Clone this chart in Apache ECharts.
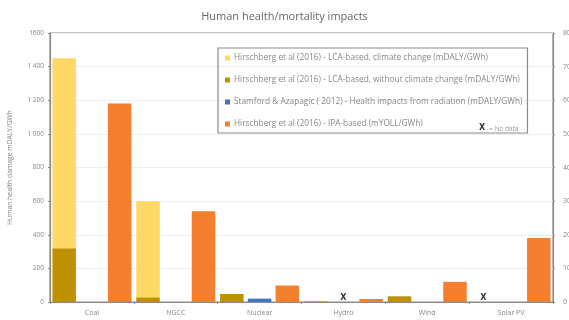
<!DOCTYPE html>
<html>
<head>
<meta charset="utf-8">
<script src="https://cdn.jsdelivr.net/npm/echarts@6/dist/echarts.min.js"></script>
<style>
  html, body { margin: 0; padding: 0; background: #fff; }
  #chart { width: 569px; height: 320px; }
</style>
</head>
<body>
<div id="chart"></div>
<script>
// Technologies compared
const categories = ['Coal', 'NGCC', 'Nuclear', 'Hydro', 'Wind', 'Solar PV'];

// Hirschberg et al (2016), LCA-based, incl. climate change (mDALY/GWh)
const lcaClimate = [1450, 600, 48, 4, 34, null];
// Hirschberg et al (2016), LCA-based, without climate change (mDALY/GWh)
const lcaNoClimate = [320, 28, 48, 4, 34, null];
// Stamford & Azapagic (2012), radiation health impacts (mDALY/GWh)
const radiation = [null, null, 20, null, null, null];
// Hirschberg et al (2016), IPA-based (mYOLL/GWh), right axis
const ipa = [59, 27, 4.9, 0.9, 6, 19];

// Categories flagged "X = No data"
const lcaNoData = ['Solar PV'];
const radiationNoData = ['Hydro'];

// Axis tick labels
const leftTicks = ['0', '200', '400', '600', '800', '1 000', '1 200', '1 400', '1600'];
const rightTicks = ['0', '10', '20', '30', '40', '50', '60', '70', '80'];

const names = [
  'Hirschberg et al (2016) - LCA-based, climate change (mDALY/GWh)',
  'Hirschberg et al (2016) - LCA-based, without climate change (mDALY/GWh)',
  'Stamford & Azapagic ( 2012) - Health impacts from radiation (mDALY/GWh)',
  'Hirschberg et al (2016) - IPA-based (mYOLL/GWh)'
];
const colors = ['#FFD966', '#BF9000', '#4472C4', '#F47F2E'];

const xLabel = {
  show: true, position: 'top', distance: 0, formatter: 'X',
  color: '#333', fontSize: 8, fontWeight: 'bold', fontFamily: 'DejaVu Sans'
};
function withNoData(values, missing) {
  return values.map((v, i) =>
    missing.includes(categories[i]) ? { value: 0, label: xLabel } : v);
}

// The lighter bar shows the climate-change share on top of the base value
const climateShare = lcaClimate.map((v, i) =>
  v == null ? null : v - lcaNoClimate[i]);

const font = 'Open Sans';
const chart = echarts.init(document.getElementById('chart'), null, { renderer: 'canvas' });

chart.setOption({
  animation: false,
  color: colors,
  textStyle: { fontFamily: font },
  title: {
    text: 'Human health/mortality impacts',
    left: 'center', top: 6,
    textStyle: { fontSize: 11, fontWeight: 'normal', color: '#666', fontFamily: font }
  },
  grid: {
    left: 50, right: 16, top: 33, bottom: 18,
    containLabel: false, outerBoundsMode: 'none',
    show: true, borderColor: '#8c8c8c', borderWidth: 1.2
  },
  legend: {
    orient: 'vertical', left: 218, top: 48,
    data: names,
    itemWidth: 5, itemHeight: 5, itemGap: 14,
    icon: 'rect',
    borderColor: '#8c8c8c', borderWidth: 1.2,
    padding: [6, 5, 5, 7],
    textStyle: { fontSize: 8.3, color: '#888', fontFamily: font, padding: [0, 0, 0, -1] }
  },
  graphic: [{
    type: 'text', left: 479, top: 124,
    style: { text: 'X', fontSize: 8, fontWeight: 'bold', fill: '#333', fontFamily: 'DejaVu Sans' }
  }, {
    type: 'text', left: 489, top: 126,
    style: { text: '= No data', fontSize: 6.5, fill: '#999', fontFamily: font }
  }],
  xAxis: {
    type: 'category', data: categories,
    axisLine: { lineStyle: { color: '#8c8c8c', width: 1.2 } },
    axisTick: { show: true, length: 2, lineStyle: { color: '#6f87a8' } },
    axisLabel: { fontSize: 7, color: '#888', margin: 7 }
  },
  yAxis: [{
    type: 'value', min: 0, max: 1600, interval: 200,
    name: 'Human health damage mDALY/GWh',
    nameLocation: 'middle', nameGap: 36,
    nameTextStyle: { fontSize: 6.8, color: '#888', fontFamily: font },
    axisLine: { show: true, lineStyle: { color: '#8c8c8c', width: 1.2 } },
    axisTick: { show: true, length: 2, lineStyle: { color: '#8c8c8c' } },
    axisLabel: {
      fontSize: 6.5, color: '#888', margin: 6,
      formatter: v => leftTicks[Math.round(v / 200)]
    },
    splitLine: { lineStyle: { color: '#eeeeee' } }
  }, {
    type: 'value', min: 0, max: 80, interval: 10, position: 'right',
    axisLine: { show: true, lineStyle: { color: '#8c8c8c', width: 1.2 } },
    axisTick: { show: true, length: 2, lineStyle: { color: '#8c8c8c' } },
    axisLabel: {
      fontSize: 7, color: '#888', margin: 10,
      formatter: v => rightTicks[Math.round(v / 10)]
    },
    splitLine: { show: false }
  }],
  series: [{
    name: names[1], type: 'bar', stack: 'lca', barWidth: 23.5, barGap: '18%',
    itemStyle: { color: colors[1] },
    data: withNoData(lcaNoClimate, lcaNoData)
  }, {
    name: names[0], type: 'bar', stack: 'lca', barWidth: 23.5,
    itemStyle: { color: colors[0] },
    data: climateShare
  }, {
    name: names[2], type: 'bar', barWidth: 23.5, barGap: '18%',
    itemStyle: { color: colors[2] },
    data: withNoData(radiation, radiationNoData)
  }, {
    name: names[3], type: 'bar', yAxisIndex: 1, barWidth: 23.5, barGap: '18%',
    itemStyle: { color: colors[3] },
    data: ipa
  }]
});
</script>
</body>
</html>
